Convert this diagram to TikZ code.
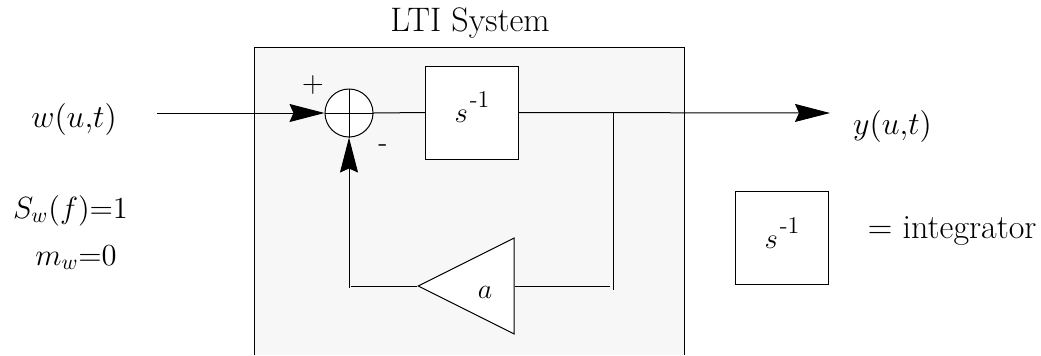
\documentclass[tikz,border=0pt]{standalone}
\usepackage{fix-cm}
\usetikzlibrary{arrows.meta,shapes.geometric}
\newcommand{\sinv}{\raisebox{-5pt}[0pt][0pt]{\fontsize{14.4}{16}\selectfont$s$}\raisebox{2.5pt}[0pt][0pt]{\fontsize{12}{14}\selectfont\kern1pt-1}}
\tikzset{
    wire/.style={line width=0.5pt, black},
    flow/.style={wire, -{Stealth[length=17.5pt,width=9pt,inset=2pt]}},
    intbox/.style={draw, line width=0.5pt, fill=white, minimum size=46.5pt, inner sep=0pt},
    sumnode/.style={draw, line width=0.5pt, circle, fill=white, minimum size=24pt, inner sep=0pt},
    biglbl/.style={font=\fontsize{16}{19}\selectfont, inner sep=0pt},
    speclbl/.style={font=\fontsize{15.3}{18}\selectfont, inner sep=0pt},
    midlbl/.style={font=\fontsize{14}{17}\selectfont, inner sep=0pt}
}
\begin{document}
\begin{tikzpicture}[x=0.5pt,y=-0.5pt]
    \useasboundingbox (0,0) rectangle (1041,355);

    % Shaded system box, open at the bottom
    \fill[black!3] (254,47) rectangle (684,355);
    \draw[wire] (254,355) -- (254,47) -- (684,47) -- (684,355);
    \node[font=\fontsize{17}{20}\selectfont, inner sep=0pt, anchor=base west] (title) at (390,31) {LTI System};

    % Define the free ends of the wires
    \coordinate (in) at (157,113);
    \coordinate (out) at (830,113);
    \coordinate (tap) at (613,113);
    \coordinate (tapend) at (613,290);
    \coordinate (gainright) at (610,286);
    \coordinate (gainleft) at (351,286);
    \coordinate (backend) at (349,288);

    % Main blocks
    \node[sumnode] (sum) at (349,113) {};
    \node[intbox] (int) at (472,112.5) {\sinv};
    \node[draw, line width=0.5pt, fill=white, isosceles triangle, shape border rotate=180,
          minimum height=48pt, minimum width=48pt, inner sep=0pt,
          isosceles triangle stretches] (gain) at (484.5,286) {};
    \node[midlbl] (gainlabel) at (485,292) {$a$};

    % Cross in the summing junction
    \draw[wire] (sum.north) -- (sum.south);
    \draw[wire] (sum.west) -- (sum.east);

    % Forward path
    \draw[flow] (in) -- (sum.west);
    \draw[wire] (sum.east) -- (int.west);
    \draw[flow] (int.east) -- (out);

    % Feedback path
    \draw[wire] (tap) -- (tapend);
    \draw[wire] (gain.east) -- (gainright);
    \draw[wire] (gain.west) -- (gainleft);
    \draw[flow] (backend) -- (sum.south);

    % Signs at the junction
    \node[font=\fontsize{15}{18}\selectfont, inner sep=0pt] (plus) at (313,85) {+};
    \node[midlbl] (minus) at (383,148) {-};

    % Input and output labels
    \node[biglbl,anchor=base] (wlabel) at (74,127) {$w(u{,}t)$};
    \node[biglbl,anchor=base] (ylabel) at (892.5,134) {$y(u{,}t)$};
    \node[speclbl,anchor=base] (spec) at (70.5,218) {$S_w(f){=}1$};
    \node[speclbl,anchor=base] (mean) at (76,265) {$m_w{=}0$};

    % Legend
    \node[intbox] (legend) at (782,238) {\sinv};
    \node[font=\fontsize{17}{20}\selectfont, inner sep=0pt, anchor=base west] (legendtext) at (867.5,238) {= integrator};
\end{tikzpicture}
\end{document}
